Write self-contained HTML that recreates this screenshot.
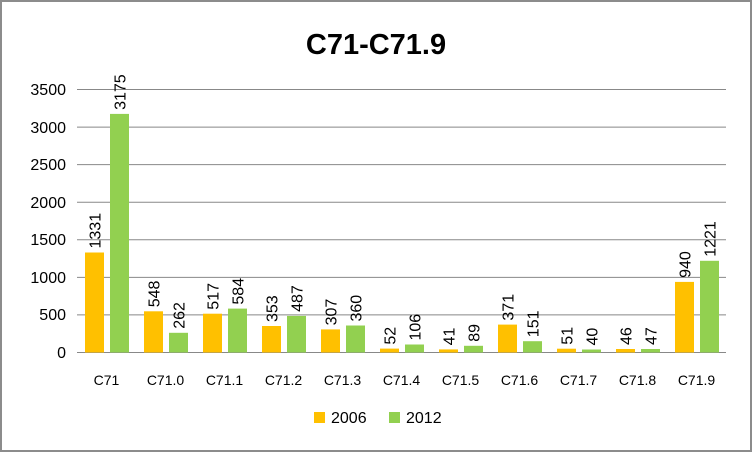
<!DOCTYPE html><html><head><style>
body{margin:0;background:#fff}
svg{display:block;font-family:"Liberation Sans",sans-serif}
</style></head><body>
<svg width="752" height="452" viewBox="0 0 752 452">
<rect x="1" y="1" width="750" height="450" fill="#fff" stroke="#8c8c8c" stroke-width="2"/>
<text x="376" y="54" text-anchor="middle" font-size="29" font-weight="bold" fill="#000">C71-C71.9</text>
<g stroke="#888" stroke-width="1">
<line x1="77" x2="726" y1="89.5" y2="89.5"/><line x1="77" x2="726" y1="127.1" y2="127.1"/>
<line x1="77" x2="726" y1="164.6" y2="164.6"/><line x1="77" x2="726" y1="202.2" y2="202.2"/>
<line x1="77" x2="726" y1="239.8" y2="239.8"/><line x1="77" x2="726" y1="277.4" y2="277.4"/>
<line x1="77" x2="726" y1="314.9" y2="314.9"/><line x1="77" x2="726" y1="352.5" y2="352.5"/>
</g>
<g font-size="16" fill="#000" text-anchor="end">
<text x="66" y="95">3500</text><text x="66" y="133">3000</text><text x="66" y="170">2500</text>
<text x="66" y="208">2000</text><text x="66" y="245">1500</text><text x="66" y="283">1000</text>
<text x="66" y="320">500</text><text x="66" y="358">0</text>
</g>
<g fill="#ffc000">
<rect x="85" y="252.5" width="19" height="100"/>
<rect x="144" y="311.3" width="19" height="41.2"/>
<rect x="203" y="313.7" width="19" height="38.8"/>
<rect x="262" y="326" width="19" height="26.5"/>
<rect x="321" y="329.4" width="19" height="23.1"/>
<rect x="380" y="348.6" width="19" height="3.9"/>
<rect x="439" y="349.4" width="19" height="3.1"/>
<rect x="498" y="324.6" width="19" height="27.9"/>
<rect x="557" y="348.7" width="19" height="3.8"/>
<rect x="616" y="349" width="19" height="3.5"/>
<rect x="675" y="281.9" width="19" height="70.6"/>
</g>
<g fill="#92d050">
<rect x="110" y="113.9" width="19" height="238.6"/>
<rect x="169" y="332.8" width="19" height="19.7"/>
<rect x="228" y="308.6" width="19" height="43.9"/>
<rect x="287" y="315.9" width="19" height="36.6"/>
<rect x="346" y="325.5" width="19" height="27"/>
<rect x="405" y="344.5" width="19" height="8"/>
<rect x="464" y="345.8" width="19" height="6.7"/>
<rect x="523" y="341.2" width="19" height="11.3"/>
<rect x="582" y="349.5" width="19" height="3"/>
<rect x="641" y="349" width="19" height="3.5"/>
<rect x="700" y="260.8" width="19" height="91.7"/>
</g>
<g font-size="16" fill="#000">
<text transform="translate(100.5,248.5) rotate(-90)">1331</text>
<text transform="translate(125.5,109.9) rotate(-90)">3175</text>
<text transform="translate(159.5,307.3) rotate(-90)">548</text>
<text transform="translate(184.5,328.8) rotate(-90)">262</text>
<text transform="translate(218.5,309.7) rotate(-90)">517</text>
<text transform="translate(243.5,304.6) rotate(-90)">584</text>
<text transform="translate(277.5,322) rotate(-90)">353</text>
<text transform="translate(302.5,311.9) rotate(-90)">487</text>
<text transform="translate(336.5,325.4) rotate(-90)">307</text>
<text transform="translate(361.5,321.5) rotate(-90)">360</text>
<text transform="translate(395.5,344.6) rotate(-90)">52</text>
<text transform="translate(420.5,340.5) rotate(-90)">106</text>
<text transform="translate(454.5,345.4) rotate(-90)">41</text>
<text transform="translate(479.5,341.8) rotate(-90)">89</text>
<text transform="translate(513.5,320.6) rotate(-90)">371</text>
<text transform="translate(538.5,337.2) rotate(-90)">151</text>
<text transform="translate(572.5,344.7) rotate(-90)">51</text>
<text transform="translate(597.5,345.5) rotate(-90)">40</text>
<text transform="translate(631.5,345) rotate(-90)">46</text>
<text transform="translate(656.5,345) rotate(-90)">47</text>
<text transform="translate(690.5,277.9) rotate(-90)">940</text>
<text transform="translate(715.5,256.8) rotate(-90)">1221</text>
</g>
<g font-size="14" fill="#000" text-anchor="middle">
<text x="106.5" y="385">C71</text><text x="165.5" y="385">C71.0</text><text x="224.5" y="385">C71.1</text>
<text x="283.5" y="385">C71.2</text><text x="342.5" y="385">C71.3</text><text x="401.5" y="385">C71.4</text>
<text x="460.5" y="385">C71.5</text><text x="519.5" y="385">C71.6</text><text x="578.5" y="385">C71.7</text>
<text x="637.5" y="385">C71.8</text><text x="696.5" y="385">C71.9</text>
</g>
<rect x="314" y="412" width="11" height="11" fill="#ffc000"/>
<text x="331" y="423" font-size="16">2006</text>
<rect x="389" y="412" width="11" height="11" fill="#92d050"/>
<text x="406" y="423" font-size="16">2012</text>
</svg></body></html>
